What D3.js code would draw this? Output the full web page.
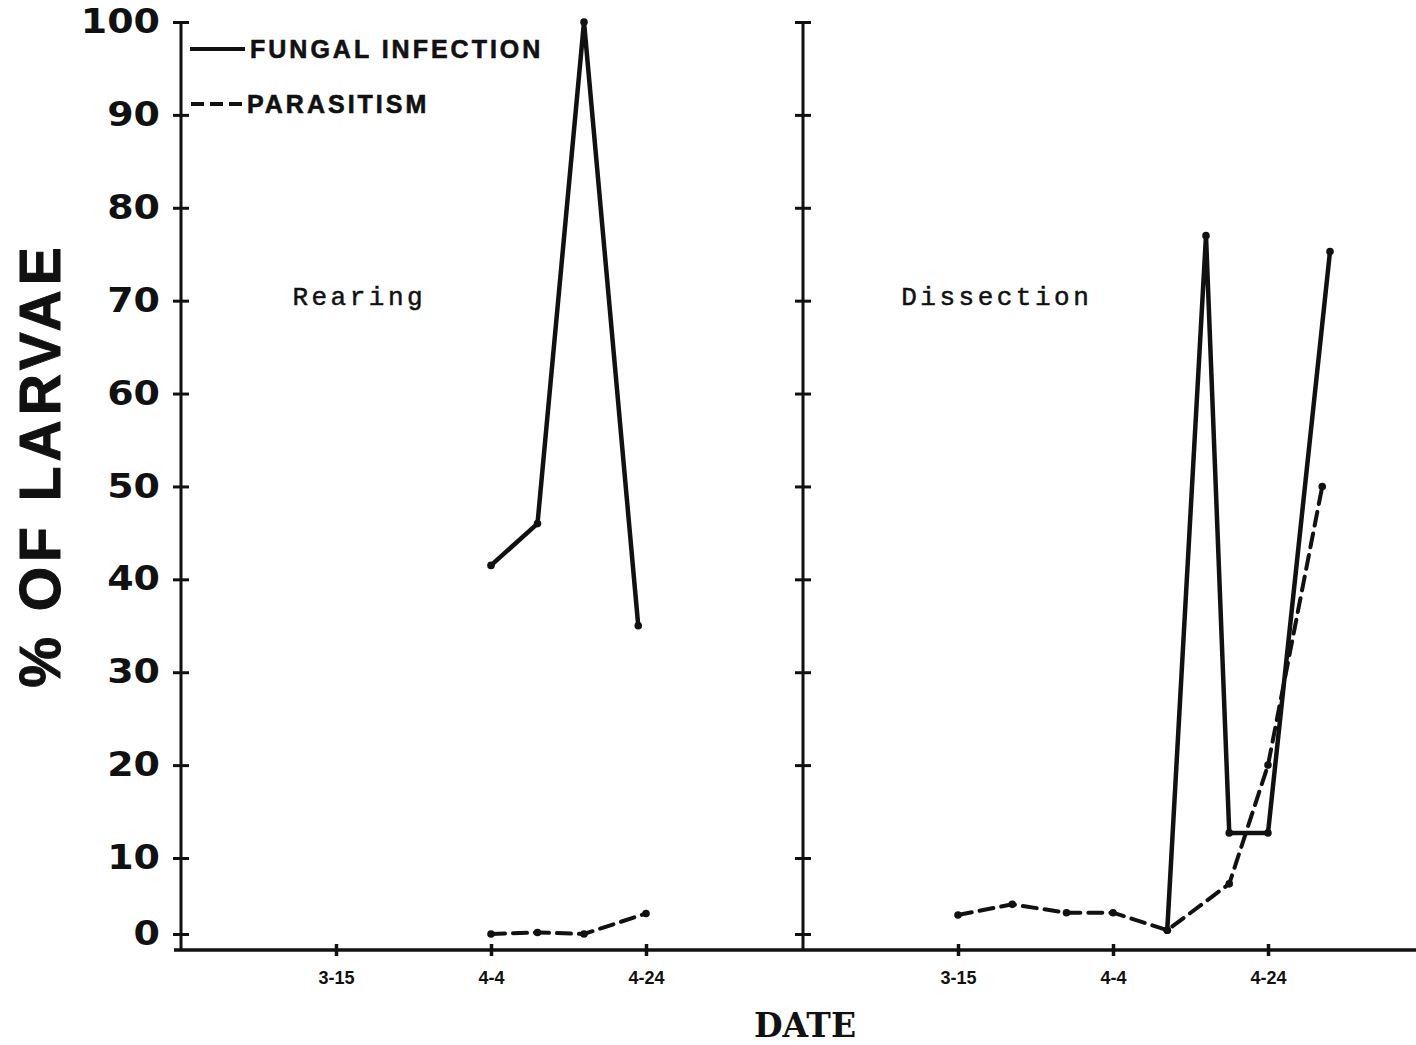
<!DOCTYPE html>
<html>
<head>
<meta charset="utf-8">
<script src="https://cdn.jsdelivr.net/npm/d3@7"></script>
<style>
  body { margin: 0; background: #fff; }
  svg { display: block; }
</style>
</head>
<body>
<svg id="chart" width="1416" height="1045"></svg>
<script>
// tick values / labels
var yTicks = [0, 10, 20, 30, 40, 50, 60, 70, 80, 90, 100];
var dateTicks = ["3-15", "4-4", "4-24"];
var panelNames = ["Rearing", "Dissection"];
var seriesNames = ["FUNGAL INFECTION", "PARASITISM"];

// Rearing panel
var rearFungalDates = ["4-4", "4-10", "4-16", "4-23"];
var rearFungal = [41.5, 46, 100, 35];
var rearParasDates = ["4-4", "4-10", "4-16", "4-24"];
var rearParas = [0, 0.2, 0, 2.7];

// Dissection panel
var dissFungalDates = ["4-11", "4-16", "4-19", "4-24", "5-2"];
var dissFungal = [0.5, 77, 12.7, 12.7, 75.3];
var dissParasDates = ["3-15", "3-22", "3-29", "4-4", "4-11", "4-19", "4-24", "5-1"];
var dissParas = [2.5, 3.9, 2.8, 2.8, 0.5, 6.6, 20, 50];

var parseDate = d3.utcParse("%m-%d"),
    fmtDate = d3.utcFormat("%-m-%-d");

var ink = "#111",
    plotBottom = 950,
    dateDomain = [parseDate("2-23"), parseDate("5-14")];

function pts(dates, vals) {
  return dates.map(function(d, i) { return {date: parseDate(d), v: vals[i]}; });
}

var panels = [
  {name: panelNames[0], left: 181, right: 801, labelled: true, nameAt: "3-18",
   fungal: pts(rearFungalDates, rearFungal), paras: pts(rearParasDates, rearParas)},
  {name: panelNames[1], left: 803, right: 1423, labelled: false, nameAt: "3-20",
   fungal: pts(dissFungalDates, dissFungal), paras: pts(dissParasDates, dissParas)}
];

// the printed "0" sits a little above the baseline, so the scale is bent at 10
var y = d3.scaleLinear().domain([0, 10, 100]).range([934, 858, 22]);

var svg = d3.select("#chart");

// baseline across both panels
svg.append("line")
   .attr("x1", 174).attr("x2", 1416)
   .attr("y1", plotBottom).attr("y2", plotBottom)
   .attr("stroke", ink).attr("stroke-width", 3.5);

panels.forEach(function(p) {
  var x = d3.scaleUtc().domain(dateDomain).range([p.left, p.right]);
  var g = svg.append("g");

  // y axis
  var yAxis = d3.axisLeft(y).tickValues(yTicks).tickSize(0);
  var ya = g.append("g")
            .attr("transform", "translate(" + p.left + ",0)")
            .call(yAxis);
  ya.select(".domain").remove();
  ya.append("line")
    .attr("y1", y(100)).attr("y2", plotBottom)
    .attr("stroke", ink).attr("stroke-width", 3);
  ya.selectAll(".tick line")
    .attr("x1", -8).attr("x2", 8)
    .attr("stroke", ink).attr("stroke-width", 3);
  if (p.labelled) {
    ya.selectAll(".tick text")
      .attr("x", 0)
      .attr("transform", "translate(-21,0) scale(1.15,1)")
      .attr("font-family", "'DejaVu Sans', sans-serif")
      .attr("font-weight", "bold")
      .attr("font-size", 33)
      .attr("fill", ink);
  } else {
    ya.selectAll(".tick text").remove();
  }

  // x axis ticks
  var xAxis = d3.axisBottom(x)
                .tickValues(dateTicks.map(parseDate))
                .tickFormat(fmtDate)
                .tickSize(0);
  var xa = g.append("g")
            .attr("transform", "translate(0," + plotBottom + ")")
            .call(xAxis);
  xa.select(".domain").remove();
  xa.selectAll(".tick line")
    .attr("y1", -6).attr("y2", 6)
    .attr("stroke", ink).attr("stroke-width", 3.5);
  xa.selectAll(".tick text")
    .attr("y", 21)
    .attr("font-family", "'Liberation Sans Narrow', 'Liberation Sans', sans-serif")
    .attr("font-weight", "bold")
    .attr("font-size", 18)
    .attr("fill", ink);

  // panel name
  g.append("text")
   .attr("x", x(parseDate(p.nameAt)))
   .attr("y", 305)
   .attr("font-family", "'Liberation Mono', monospace")
   .attr("font-size", 26)
   .attr("letter-spacing", 3.5)
   .attr("fill", ink)
   .attr("stroke", ink).attr("stroke-width", 0.5)
   .attr("text-anchor", "middle")
   .text(p.name);

  var line = d3.line()
               .x(function(d) { return x(d.date); })
               .y(function(d) { return y(d.v); });

  g.append("path")
   .datum(p.paras)
   .attr("d", line)
   .attr("fill", "none")
   .attr("stroke", ink)
   .attr("stroke-width", 4)
   .attr("stroke-dasharray", "14,8")
   .attr("stroke-linecap", "round");

  g.append("path")
   .datum(p.fungal)
   .attr("d", line)
   .attr("fill", "none")
   .attr("stroke", ink)
   .attr("stroke-width", 4.5)
   .attr("stroke-linejoin", "round");

  g.selectAll(".dot")
   .data(p.paras.concat(p.fungal))
   .enter().append("circle")
   .attr("cx", function(d) { return x(d.date); })
   .attr("cy", function(d) { return y(d.v); })
   .attr("r", 3.8)
   .attr("fill", ink);
});

// legend
var legend = svg.append("g");
legend.append("line")
      .attr("x1", 190).attr("x2", 245).attr("y1", 49).attr("y2", 49)
      .attr("stroke", ink).attr("stroke-width", 4);
legend.append("line")
      .attr("x1", 191).attr("x2", 245).attr("y1", 104).attr("y2", 104)
      .attr("stroke", ink).attr("stroke-width", 4)
      .attr("stroke-dasharray", "13,6");
legend.selectAll("text")
      .data(seriesNames)
      .enter().append("text")
      .attr("x", function(d, i) { return i ? 247 : 250; })
      .attr("y", function(d, i) { return i ? 113 : 58; })
      .attr("font-family", "'Liberation Sans', Arial, sans-serif")
      .attr("font-weight", "bold")
      .attr("font-size", 25)
      .attr("letter-spacing", 3)
      .attr("fill", ink)
      .attr("stroke", ink).attr("stroke-width", 0.6)
      .text(function(d) { return d; });

// axis titles
svg.append("text")
   .attr("transform", "translate(60,465) rotate(-90)")
   .attr("text-anchor", "middle")
   .attr("font-family", "'Liberation Sans', Arial, sans-serif")
   .attr("font-weight", "bold")
   .attr("font-size", 57)
   .attr("letter-spacing", 5)
   .attr("fill", ink)
   .attr("stroke", ink).attr("stroke-width", 1)
   .text("% OF LARVAE");

svg.append("text")
   .attr("x", 805)
   .attr("y", 1037)
   .attr("text-anchor", "middle")
   .attr("font-family", "'DejaVu Serif', serif")
   .attr("font-weight", "bold")
   .attr("font-size", 33)
   .attr("fill", ink)
   .text("DATE");
</script>
</body>
</html>
